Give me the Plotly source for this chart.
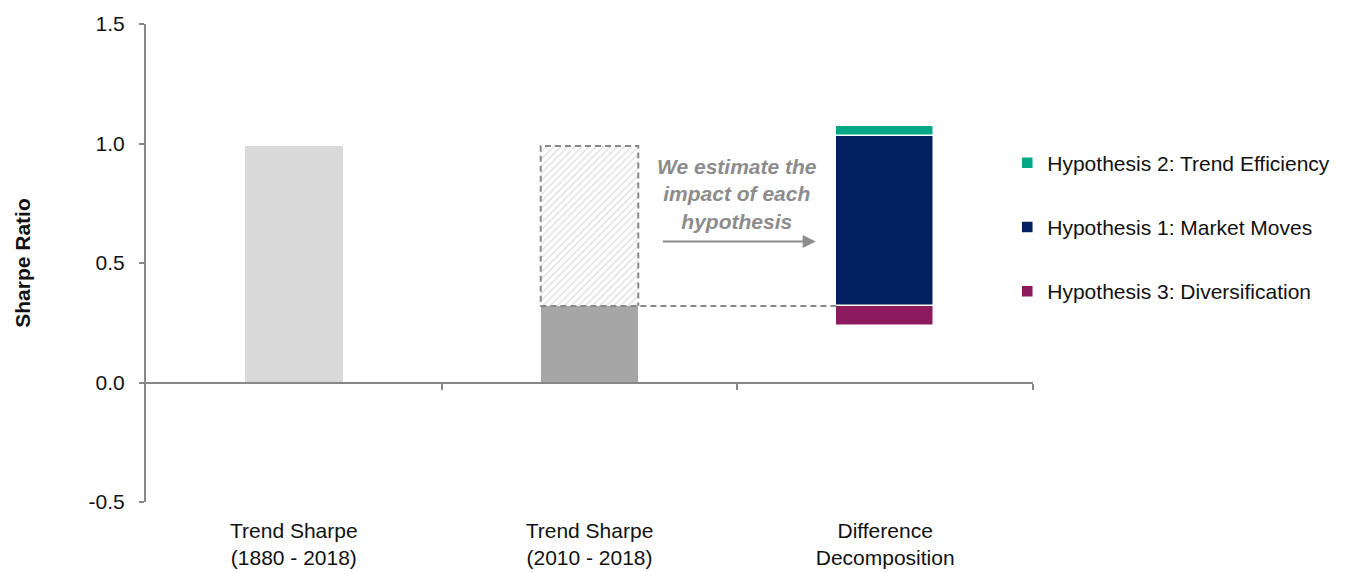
import plotly.graph_objects as go

# --- data -------------------------------------------------------------
categories = ["Trend Sharpe<br>(1880 - 2018)",
              "Trend Sharpe<br>(2010 - 2018)",
              "Difference<br>Decomposition"]
sharpe_long = 0.99          # 1880 - 2018
sharpe_recent = 0.32        # 2010 - 2018
# contributions explaining the gap, stacked from the recent Sharpe
hyp_names = ["Hypothesis 3: Diversification",
             "Hypothesis 1: Market Moves",
             "Hypothesis 2: Trend Efficiency"]
hyp_values = [-0.085, 0.71, 0.045]
hyp_colors = ["#8c1a5e", "#002060", "#00a886"]
hyp_legend_rank = [3, 2, 1]

y_range = [-0.5, 1.5]
y_ticks = [-0.5, 0.0, 0.5, 1.0, 1.5]
y_ticktext = ["-0.5", "0.0", "0.5", "1.0", "1.5"]

FONT = "Arial, 'Liberation Sans', sans-serif"
GREY = "#888888"
BAR_W = 0.33
FS = 21

fig = go.Figure()

# long-history Sharpe
fig.add_trace(go.Bar(x=[0], y=[sharpe_long], width=BAR_W,
                     marker=dict(color="#d9d9d9", line=dict(width=0)),
                     showlegend=False, hoverinfo="skip"))
# recent Sharpe
fig.add_trace(go.Bar(x=[1], y=[sharpe_recent], width=BAR_W,
                     marker=dict(color="#a6a6a6", line=dict(width=0)),
                     showlegend=False, hoverinfo="skip"))
# hatched gap between recent and long-history Sharpe
fig.add_trace(go.Bar(x=[1], y=[sharpe_long - sharpe_recent], base=[sharpe_recent],
                     width=BAR_W,
                     marker=dict(color="white", line=dict(width=0),
                                 pattern=dict(shape="/", fgcolor="#c4c4c4",
                                              bgcolor="white", size=5,
                                              solidity=0.3)),
                     showlegend=False, hoverinfo="skip"))

# decomposition: diversification hangs below the recent Sharpe,
# market moves and trend efficiency stack above it
up = sharpe_recent
for name, val, col, rank in zip(hyp_names, hyp_values, hyp_colors, hyp_legend_rank):
    if val < 0:
        base = sharpe_recent + val
        h = -val
    else:
        base = up
        h = val
        up += val
    fig.add_trace(go.Bar(x=[2], y=[h], base=[base], width=BAR_W, name=name,
                         legendgroup=name, legendrank=rank,
                         marker=dict(color=col, line=dict(color="white", width=1.5)),
                         hoverinfo="skip"))

# dashed outline of the gap and guide line to the decomposition bar
x_l = 1 - BAR_W / 2
x_r = 1 + BAR_W / 2
fig.add_trace(go.Scatter(
    x=[2 - BAR_W / 2, x_l, x_l, x_r, x_r],
    y=[sharpe_recent, sharpe_recent, sharpe_long, sharpe_long, sharpe_recent],
    mode="lines", line=dict(color=GREY, width=2, dash="6px,4px"),
    showlegend=False, hoverinfo="skip", xaxis="x2"))

zero_pos = (0 - y_range[0]) / (y_range[1] - y_range[0])

fig.update_layout(
    width=1348, height=572,
    margin=dict(l=146, r=315, t=24, b=70, autoexpand=False),
    paper_bgcolor="white", plot_bgcolor="white",
    barmode="overlay", bargap=0,
    font=dict(family=FONT, size=FS, color="#111111"),
    xaxis=dict(range=[-0.5, 2.5], tickvals=[0, 1, 2], ticktext=categories,
               showline=False, showgrid=False, zeroline=False, ticks="",
               automargin=False,
               tickfont=dict(size=FS, color="#111111"), ticklabelstandoff=14),
    xaxis2=dict(range=[-0.5, 2.5], overlaying="x", anchor="free",
                position=zero_pos, showline=True, linecolor=GREY, linewidth=2,
                ticks="outside", tickvals=[0.5, 1.5, 2.5], ticklen=6,
                tickwidth=2, tickcolor=GREY, showticklabels=False,
                showgrid=False, zeroline=False, automargin=False),
    yaxis=dict(range=y_range, tickvals=y_ticks, ticktext=y_ticktext,
               showline=True, linecolor=GREY, linewidth=2,
               ticks="outside", ticklen=5, tickwidth=2, tickcolor=GREY,
               showgrid=False, zeroline=False, ticklabelstandoff=10,
               automargin=False,
               tickfont=dict(size=FS, color="#111111"),
               title=dict(text="<b>Sharpe Ratio</b>", standoff=52,
                          font=dict(size=21, color="#111111"))),
    legend=dict(x=0.971, xanchor="left", y=0.752, yanchor="top",
                traceorder="grouped", tracegroupgap=34,
                font=dict(size=FS, color="#111111"),
                bgcolor="rgba(0,0,0,0)"),
    annotations=[
        dict(x=1.5, y=0.79, xref="x", yref="y", showarrow=False,
             text="<b><i>We estimate the<br>impact of each<br>hypothesis</i></b>",
             font=dict(size=FS, color="#8c8c8c"), align="center"),
        dict(x=1.765, y=0.59, ax=1.243, ay=0.59, xref="x", yref="y",
             axref="x", ayref="y", text="", showarrow=True,
             arrowhead=2, arrowsize=1.3, arrowwidth=2, arrowcolor="#8c8c8c"),
    ],
)

fig.write_html("out.html")
